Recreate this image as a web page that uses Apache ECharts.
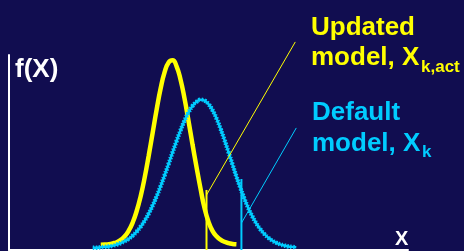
<!DOCTYPE html>
<html>
<head>
<meta charset="utf-8">
<script src="https://cdn.jsdelivr.net/npm/echarts@6/dist/echarts.min.js"></script>
<style>
  html, body { margin: 0; padding: 0; background: #110d50; }
  #chart { width: 464px; height: 251px; }
</style>
</head>
<body>
<div id="chart"></div>
<script>
// updated model (yellow), x = 23..57
var updatedX = [23, 24, 25, 26, 27, 28, 29, 30, 31, 32, 33, 34, 35, 36, 37, 38, 39, 40, 41, 42,
    43, 44, 45, 46, 47, 48, 49, 50, 51, 52, 53, 54, 55, 56, 57];
var updatedY = [2.7, 2.8, 3.0, 3.4, 4.0, 5.2, 7.0, 9.9, 14.1, 20.0, 27.6, 37.1, 48.2, 60.1, 72.0, 82.8, 91.2, 96.2, 97.3, 94.2,
    87.3, 77.6, 66.1, 54.1, 42.5, 31.5, 21.5, 14.5, 9.8, 7.0, 5.3, 4.2, 3.5, 3.1, 2.9];

// default model (blue), x = 21..72
var defaultX = [21, 22, 23, 24, 25, 26, 27, 28, 29, 30, 31, 32, 33, 34, 35, 36, 37, 38, 39, 40,
    41, 42, 43, 44, 45, 46, 47, 48, 49, 50, 51, 52, 53, 54, 55, 56, 57, 58, 59, 60,
    61, 62, 63, 64, 65, 66, 67, 68, 69, 70, 71, 72];
var defaultY = [1.2, 1.2, 1.4, 1.6, 1.8, 2.2, 2.8, 3.5, 4.5, 5.7, 7.4, 9.4, 12.0, 15.0, 18.6, 22.8, 27.5, 32.7, 38.3, 44.1,
    50.1, 55.9, 61.4, 66.4, 70.6, 73.9, 76.0, 77.0, 76.6, 74.8, 71.7, 67.5, 62.3, 56.5, 50.3, 43.9, 37.7, 31.8, 26.3, 21.4,
    17.2, 13.6, 10.6, 8.2, 6.3, 4.8, 3.7, 2.9, 2.3, 1.8, 1.6, 1.4];

// markers and leader lines
var updatedMark = [[49.5, 0], [49.5, 30.8]];
var defaultMark = [[58.25, 0], [58.25, 36.4]];
var updatedLeader = [[49.5, 28.2], [71.75, 106.7]];
var defaultLeader = [[58.25, 13.8], [72, 62.6]];

var YELLOW = '#ffff00';
var BLUE = '#00ccff';

function pairs(xs, ys) {
    var out = [];
    for (var i = 0; i < xs.length; i++) {
        out.push([xs[i], ys[i]]);
    }
    return out;
}

var myChart = echarts.init(document.getElementById('chart'));
var font = '"Liberation Sans", Arial, sans-serif';

var option = {
    backgroundColor: '#110d50',
    animation: false,
    grid: {left: 9, right: 56, top: 55, bottom: 1},
    xAxis: {
        type: 'value', min: 0, max: 100,
        axisLine: {show: true, lineStyle: {color: '#ffffff', width: 2}},
        axisTick: {show: false}, axisLabel: {show: false}, splitLine: {show: false}
    },
    yAxis: {
        type: 'value', min: 0, max: 100,
        axisLine: {show: true, lineStyle: {color: '#ffffff', width: 2}},
        axisTick: {show: false}, axisLabel: {show: false}, splitLine: {show: false}
    },
    series: [
        {
            type: 'line', data: pairs(updatedX, updatedY), smooth: true, showSymbol: false,
            lineStyle: {color: YELLOW, width: 4.5}, clip: false
        },
        {
            type: 'line', data: pairs(defaultX, defaultY), smooth: true, showSymbol: false,
            lineStyle: {color: BLUE, width: 2.5}, clip: false
        },
        {
            // stepped look of the default curve
            type: 'line', data: pairs(defaultX, defaultY), smooth: true, showSymbol: false,
            lineStyle: {color: BLUE, width: 4.5, type: [1.5, 1.5]}, clip: false
        },
        {
            type: 'line', data: updatedMark, showSymbol: false,
            lineStyle: {color: YELLOW, width: 2}, clip: false
        },
        {
            type: 'line', data: defaultMark, showSymbol: false,
            lineStyle: {color: BLUE, width: 2}, clip: false
        },
        {
            type: 'line', data: updatedLeader, showSymbol: false,
            lineStyle: {color: YELLOW, width: 1}, clip: false
        },
        {
            type: 'line', data: defaultLeader, showSymbol: false,
            lineStyle: {color: BLUE, width: 1}, clip: false
        }
    ],
    graphic: [
        {type: 'text', left: 15, top: 57, style: {text: 'f(X)', fill: '#ffffff', font: 'bold 26px ' + font}},
        {type: 'text', left: 311, top: 15, style: {text: 'Updated', fill: YELLOW, font: 'bold 26px ' + font}},
        {type: 'text', left: 311, top: 45, style: {text: 'model, X', fill: YELLOW, font: 'bold 26px ' + font}},
        {type: 'text', left: 421, top: 59, style: {text: 'k,act', fill: YELLOW, font: 'bold 17px ' + font}},
        {type: 'text', left: 312, top: 100, style: {text: 'Default', fill: BLUE, font: 'bold 26px ' + font}},
        {type: 'text', left: 312, top: 131, style: {text: 'model, X', fill: BLUE, font: 'bold 26px ' + font}},
        {type: 'text', left: 422, top: 144, style: {text: 'k', fill: BLUE, font: 'bold 17px ' + font}},
        {type: 'text', left: 395, top: 229, style: {text: 'X', fill: '#ffffff', font: 'bold 20px ' + font}}
    ]
};
myChart.setOption(option);
</script>
</body>
</html>
